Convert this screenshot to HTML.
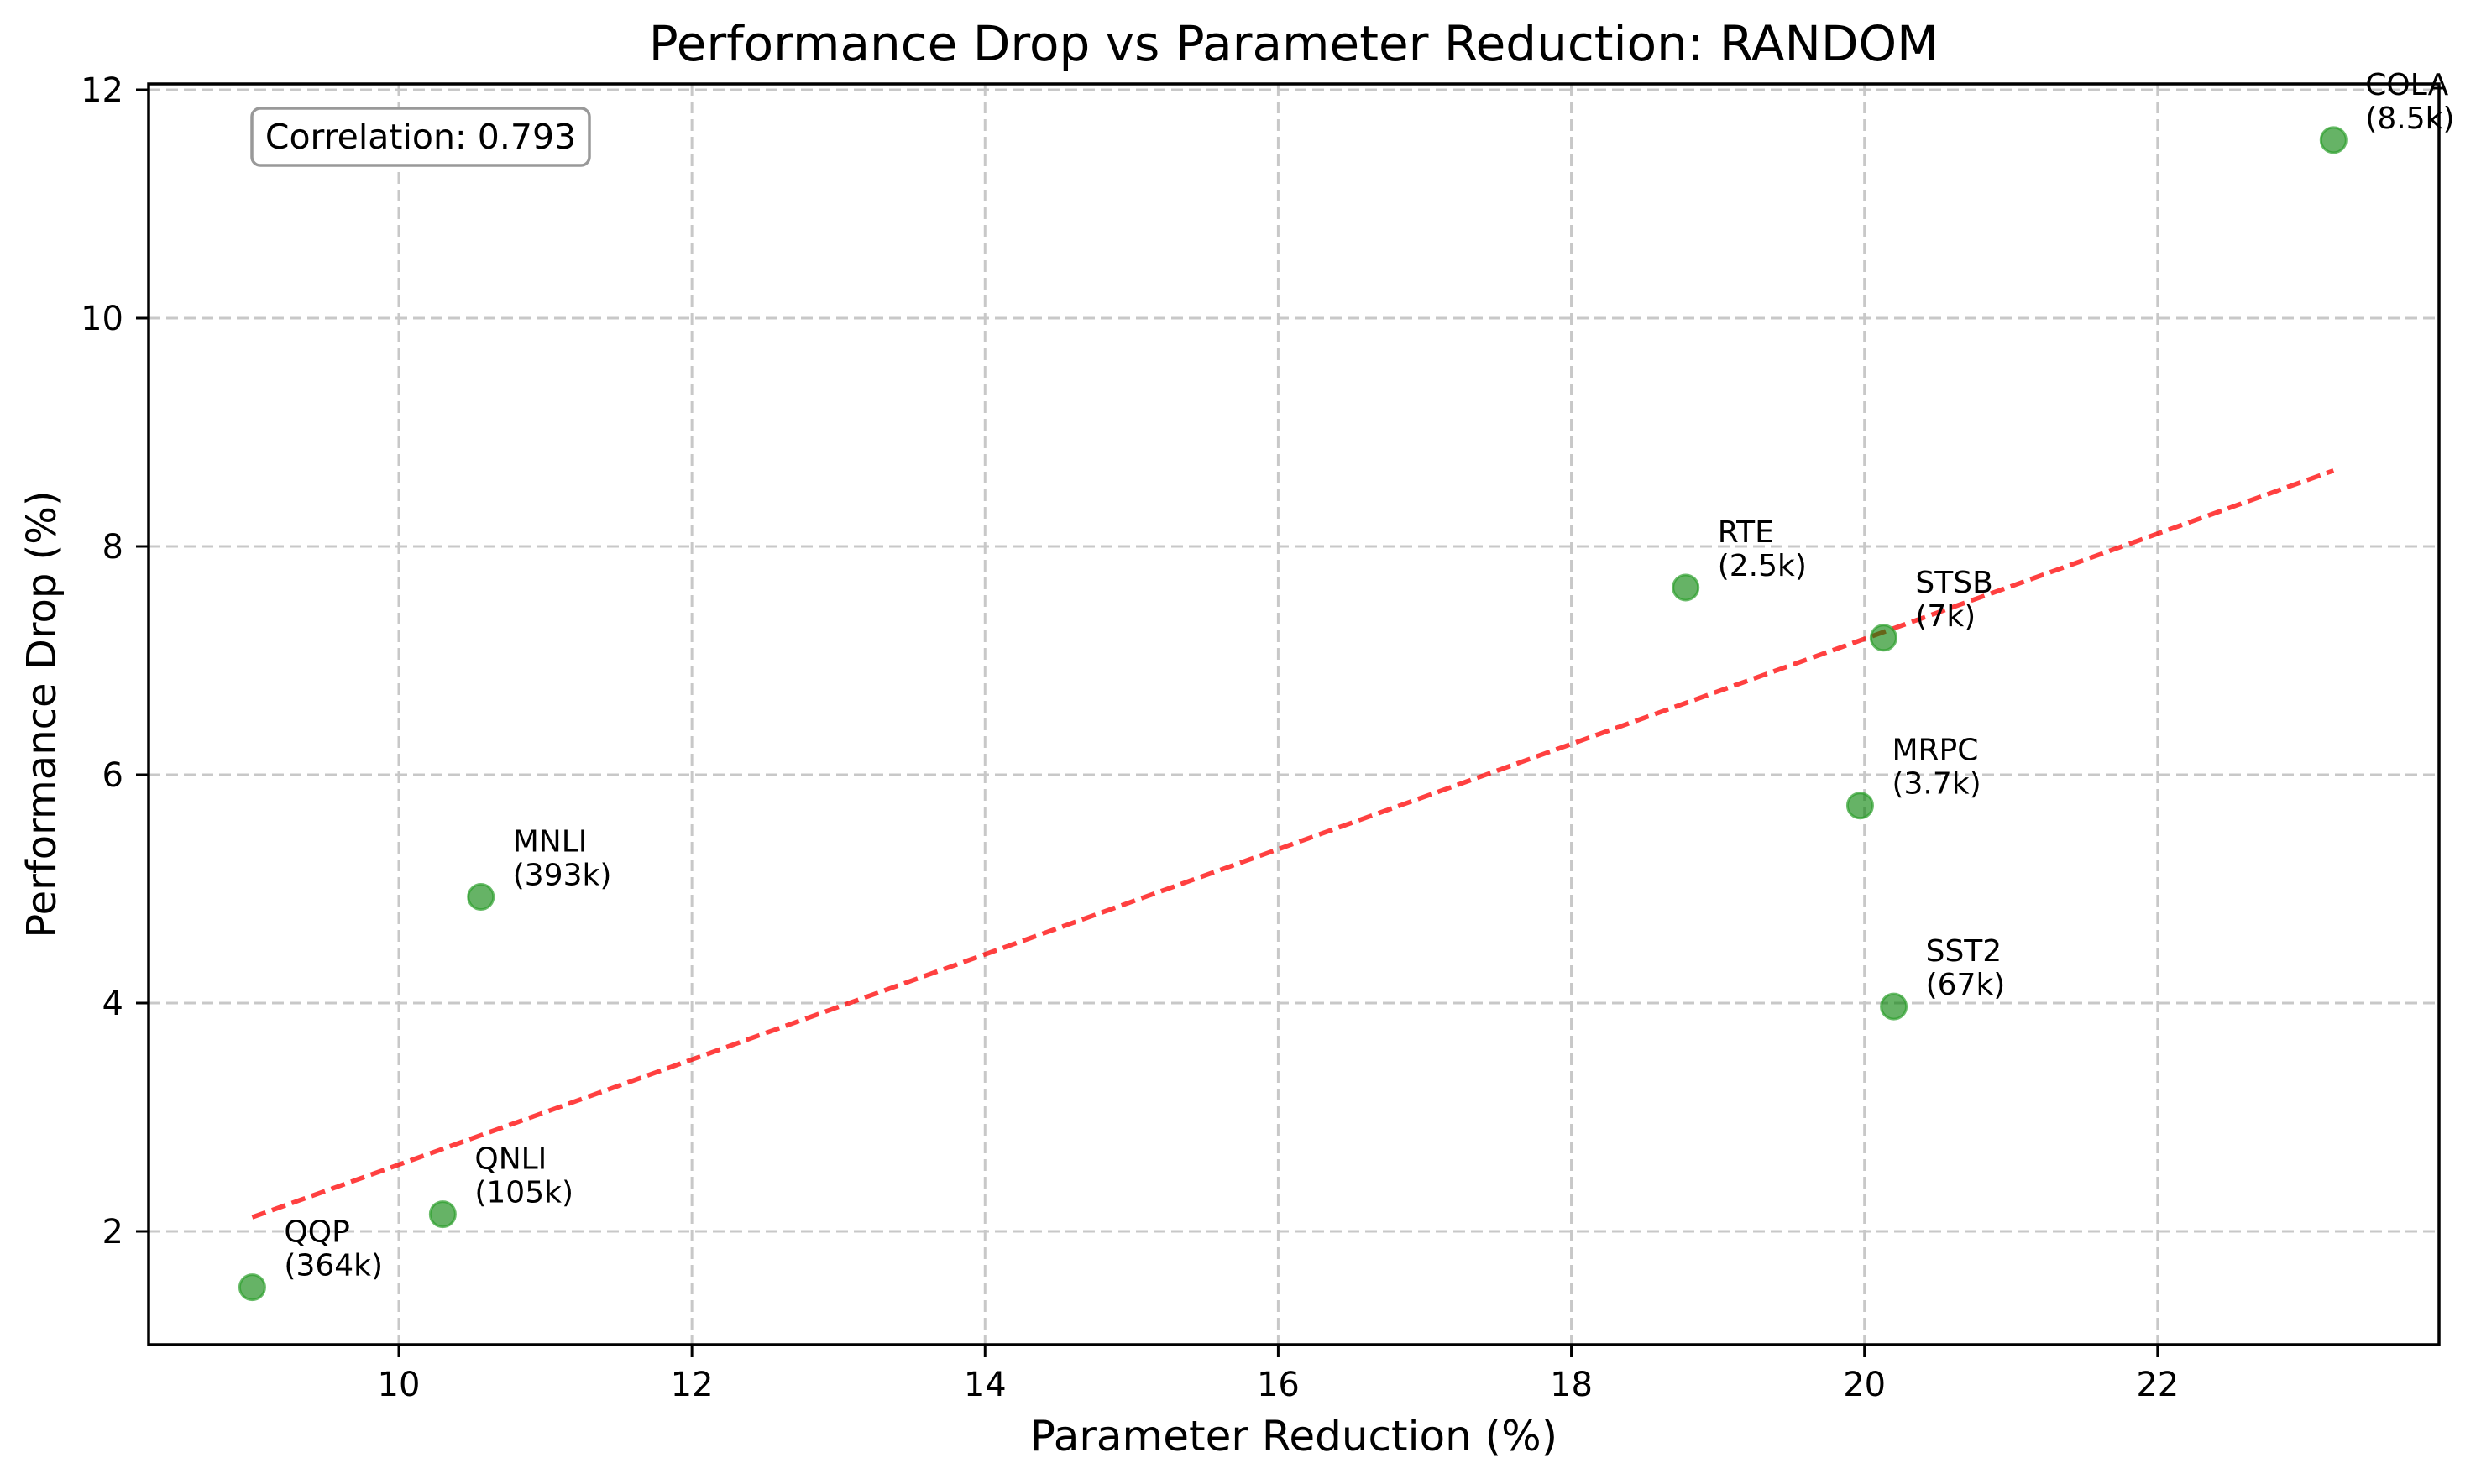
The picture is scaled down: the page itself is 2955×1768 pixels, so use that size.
<!DOCTYPE html>
<html><head><meta charset="utf-8"><style>
html,body{margin:0;padding:0;background:#fff;}
svg{display:block;font-family:"DejaVu Sans","Liberation Sans",sans-serif;}
</style></head><body>
<svg id="chart" width="2955" height="1768" viewBox="0 0 2955 1768" xmlns="http://www.w3.org/2000/svg">
<rect width="2955" height="1768" fill="#fff"/>
<g id="grid"></g>
<g id="trend"></g>
<g id="points"></g>
<g id="labels"></g>
<rect x="177" y="100" width="2728" height="1502" fill="none" stroke="#000" stroke-width="3.5"/>
<g id="ticks"></g>
<g>
<rect x="300" y="129" width="402" height="68" rx="10" fill="#fff" stroke="#999" stroke-width="3.5"/>
<text x="501" y="177" text-anchor="middle" font-size="41">Correlation: 0.793</text>
</g>
<text x="1541" y="72" text-anchor="middle" font-size="58">Performance Drop vs Parameter Reduction: RANDOM</text>
<text x="1541" y="1728" text-anchor="middle" font-size="50">Parameter Reduction (%)</text>
<text transform="translate(66,851) rotate(-90)" text-anchor="middle" font-size="48">Performance Drop (%)</text>
</svg>
<script>
const tasks = ["QQP","QNLI","MNLI","RTE","STSB","MRPC","SST2","COLA"];
const sizes = ["364k","105k","393k","2.5k","7k","3.7k","67k","8.5k"];
const paramReduction = [9.0,10.3,10.56,18.78,20.13,19.97,20.2,23.2];
const perfDrop = [1.51,2.15,4.93,7.64,7.20,5.73,3.97,11.56];
const xTicks = [10,12,14,16,18,20,22];
const yTicks = [2,4,6,8,10,12];

const NS="http://www.w3.org/2000/svg";
const L=177,R=2905,T=100,B=1602;
const xMin=8.293,xMax=23.92;
function sx(v){return L+(v-xMin)/(xMax-xMin)*(R-L);}
function sy(v){return 1467-(v-2)*136;}
function mk(tag,attrs,parent){const e=document.createElementNS(NS,tag);for(const k in attrs)e.setAttribute(k,attrs[k]);parent.appendChild(e);return e;}
const grid=document.getElementById('grid'),ticks=document.getElementById('ticks');
xTicks.forEach(v=>{
  const x=sx(v);
  const g=mk('line',{x1:x,x2:x,y1:T,y2:B,stroke:'#c8c8c8','stroke-width':3,'stroke-dasharray':'14 7'},grid);
  
  
  const t=mk('line',{x1:x,x2:x,y1:B,y2:B+15,stroke:'#000','stroke-width':3},ticks);
  
  
  const l=mk('text',{x:x,y:1663,'text-anchor':'middle','font-size':40},ticks);
  l.textContent=v;
  
  
});
yTicks.forEach(v=>{
  const y=sy(v);
  const g=mk('line',{x1:L,x2:R,y1:y,y2:y,stroke:'#c8c8c8','stroke-width':3,'stroke-dasharray':'14 7'},grid);
  
  
  const t=mk('line',{x1:L-15,x2:L,y1:y,y2:y,stroke:'#000','stroke-width':3},ticks);
  
  
  const l=mk('text',{x:L-30,y:y+14,'text-anchor':'end','font-size':40},ticks);
  l.textContent=v;
  
  
});
const n=paramReduction.length;
const mx=paramReduction.reduce((a,b)=>a+b,0)/n,my=perfDrop.reduce((a,b)=>a+b,0)/n;
let sxy=0,sxx=0;for(let i=0;i<n;i++){sxy+=(paramReduction[i]-mx)*(perfDrop[i]-my);sxx+=(paramReduction[i]-mx)**2;}
const slope=sxy/sxx,icpt=my-slope*mx;
const x0=Math.min(...paramReduction),x1=Math.max(...paramReduction);
const tl=mk('line',{x1:sx(x0),y1:sy(slope*x0+icpt),x2:sx(x1),y2:sy(slope*x1+icpt),stroke:'#ff0000','stroke-opacity':0.75,'stroke-width':5.5,'stroke-dasharray':'17 8'},document.getElementById('trend'));


const pts=document.getElementById('points'),labs=document.getElementById('labels');
for(let i=0;i<n;i++){
  const cx=sx(paramReduction[i]),cy=sy(perfDrop[i]);
  const c=mk('circle',{cx:cx,cy:cy,r:15,fill:'#008000','fill-opacity':0.6,stroke:'#2ca02c','stroke-opacity':0.7,'stroke-width':3},pts);
  
  
  const t=mk('text',{x:cx+38,y:cy-54,'font-size':36},labs);
  
  
  const a=mk('tspan',{x:cx+38,dy:0},t);a.textContent=tasks[i];
  const b=mk('tspan',{x:cx+38,dy:40},t);b.textContent='('+sizes[i]+')';
}
</script>
</body></html>
